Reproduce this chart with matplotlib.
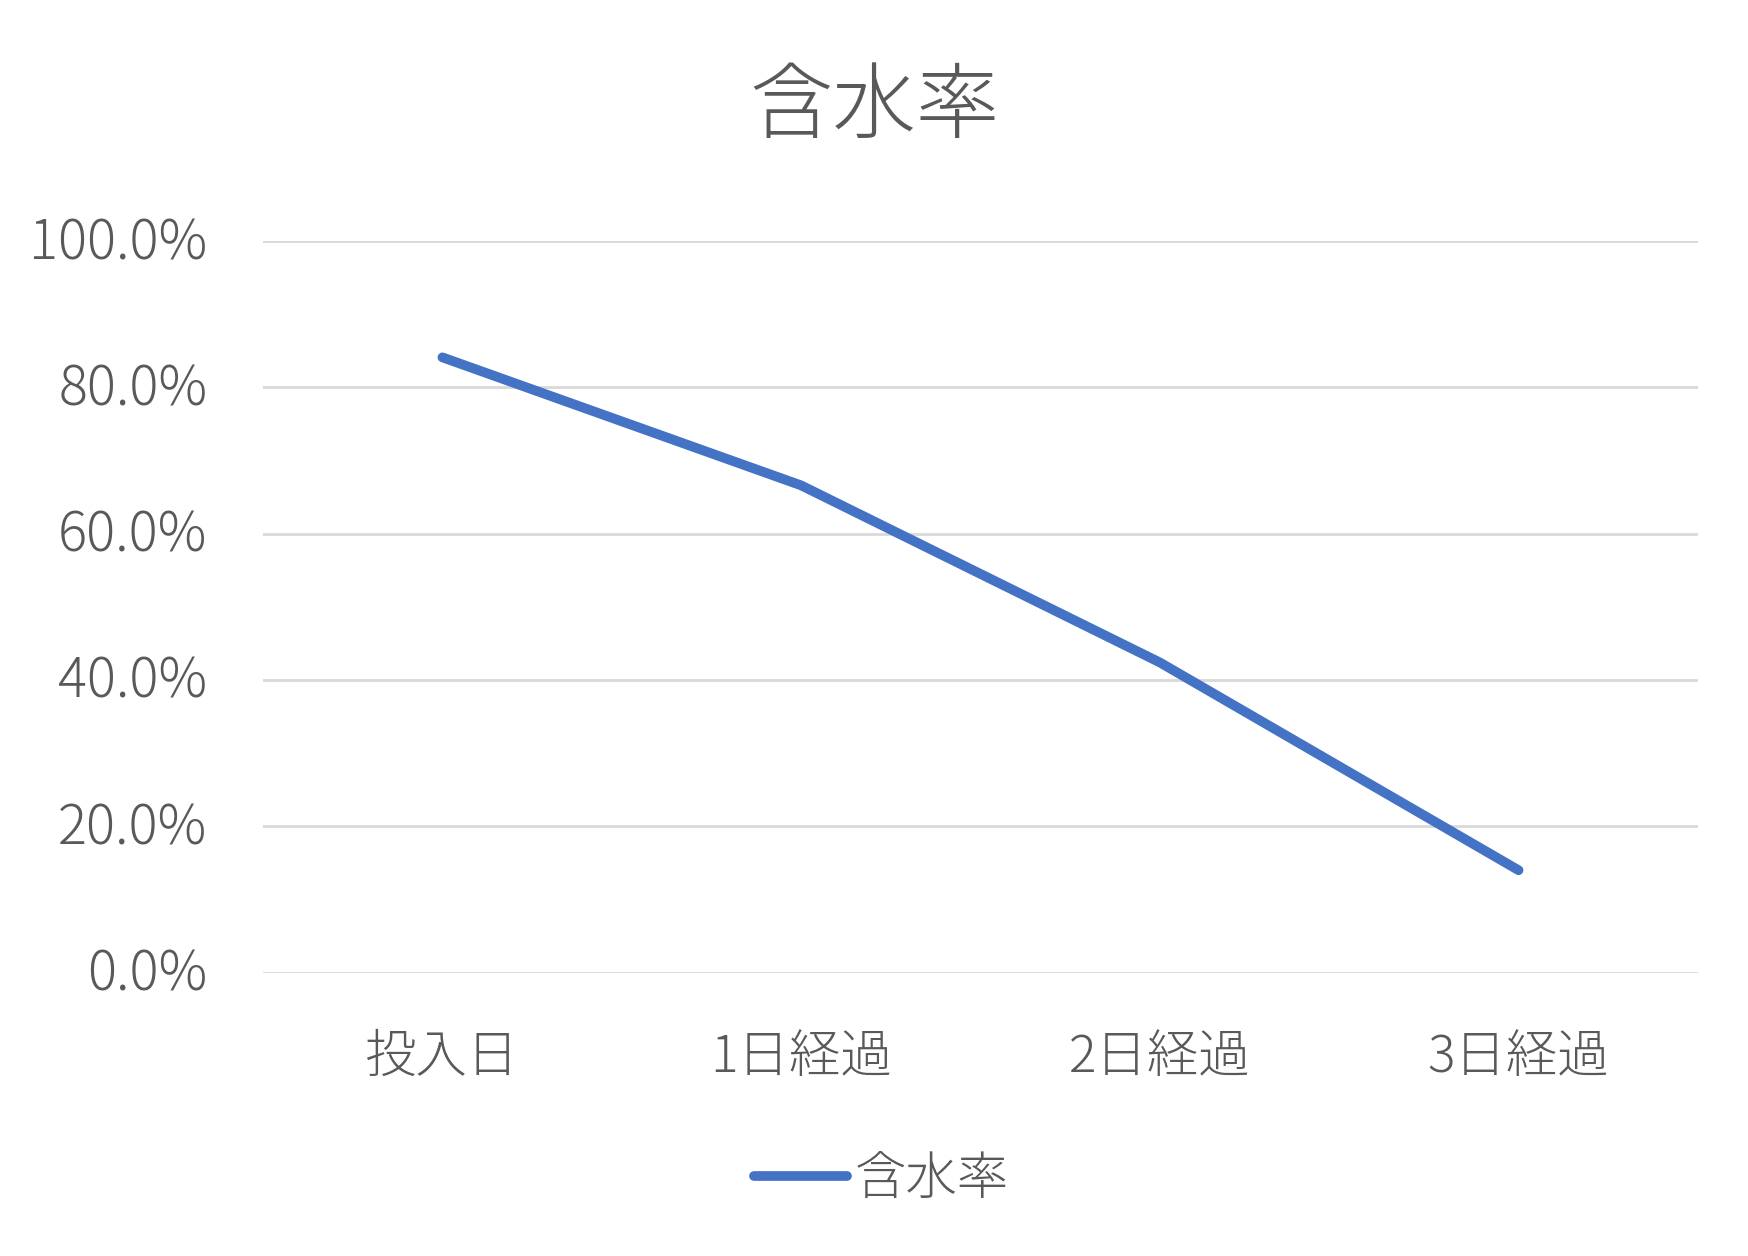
import matplotlib
matplotlib.use("Agg")
import matplotlib.pyplot as plt
import matplotlib.transforms as mtransforms
from matplotlib.ticker import PercentFormatter

plt.rcParams['font.family'] = ['Noto Sans CJK JP', 'DejaVu Sans']
plt.rcParams['font.weight'] = 'light'

categories = ["投入日", "1日経過", "2日経過", "3日経過"]
moisture = [0.841, 0.666, 0.424, 0.140]
series_name = "含水率"

text_color = "#595959"
line_color = "#4472C4"
grid_color = "#D9D9D9"

fig = plt.figure(figsize=(17.49, 12.56), dpi=100)
ax = fig.add_axes([0.1504, 0.2256, 0.8204, 0.5825])

x = list(range(len(categories)))
ax.plot(x, moisture, color=line_color, linewidth=7, solid_capstyle="round",
        solid_joinstyle="round", label=series_name, zorder=3)

ax.set_xlim(-0.5, len(categories) - 0.5)
ax.set_ylim(0, 1.0)
ax.set_yticks([0, 0.2, 0.4, 0.6, 0.8, 1.0])
ax.yaxis.set_major_formatter(PercentFormatter(1.0, decimals=1))
ax.set_xticks(x)
ax.set_xticklabels(categories)

ax.grid(axis="y", color=grid_color, linewidth=2.0)
ax.set_axisbelow(True)
for s in ax.spines.values():
    s.set_visible(False)
ax.tick_params(axis="both", length=0, labelsize=37, labelcolor=text_color)
ax.tick_params(axis="y", pad=40, labelsize=39)
ax.tick_params(axis="x", pad=42)

# nudge y labels up a little
shift = mtransforms.ScaledTranslation(0, 0.04, fig.dpi_scale_trans)
for lab in ax.get_yticklabels():
    lab.set_transform(lab.get_transform() + shift)

fig.text(0.5, 0.914, series_name, ha="center", va="center", fontsize=60, color=text_color)

leg = fig.legend(loc="center", bbox_to_anchor=(0.504, 0.061), frameon=False,
                 fontsize=37, handlelength=1.8, handletextpad=0.15)
for t in leg.get_texts():
    t.set_color(text_color)

fig.savefig("out.png", dpi=100)
